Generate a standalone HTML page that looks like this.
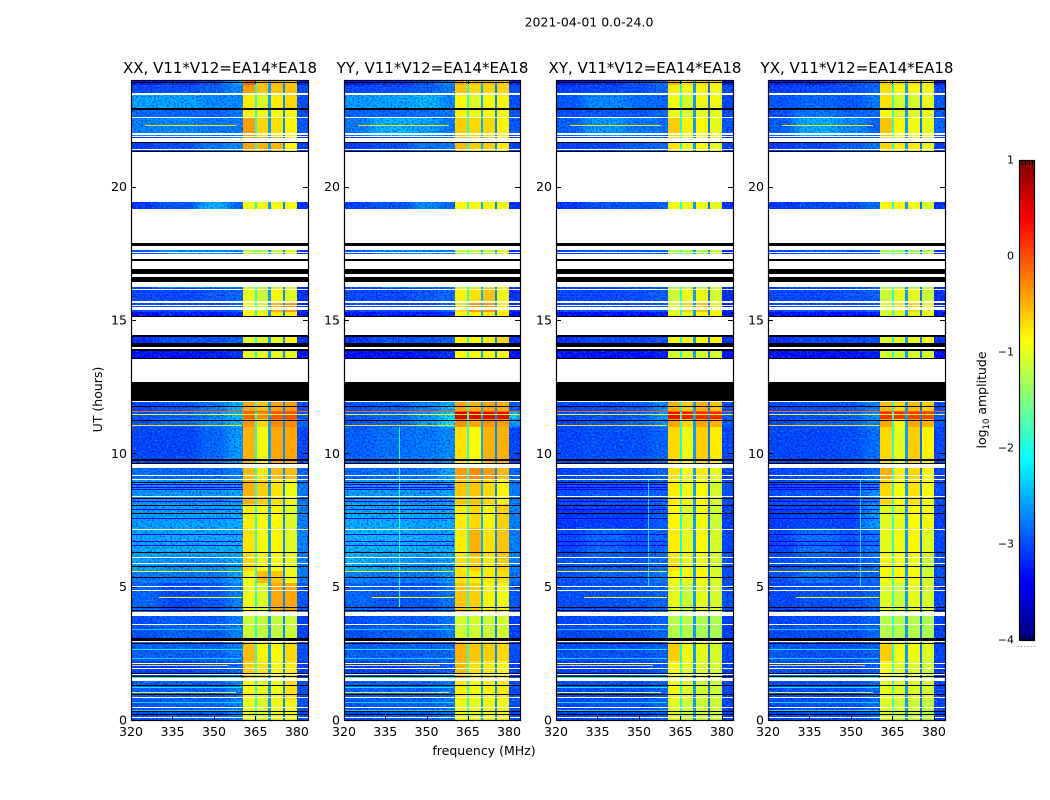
<!DOCTYPE html>
<html lang="en">
<head>
<meta charset="utf-8">
<title>2021-04-01 0.0-24.0</title>
<style>
html,body{margin:0;padding:0;background:#fff;}
svg{display:block;font-family:"DejaVu Sans","Liberation Sans",sans-serif;fill:#000;}
</style>
</head>
<body>
<svg id="figure" xmlns="http://www.w3.org/2000/svg" width="1050" height="800" viewBox="0 0 1050 800">
<defs>
<filter id="hblur" filterUnits="userSpaceOnUse" x="0" y="60" width="1050" height="680"><feGaussianBlur stdDeviation="5 0"/></filter>
<filter id="grainCool" x="0" y="0" width="100%" height="100%" color-interpolation-filters="sRGB">
<feTurbulence type="fractalNoise" baseFrequency="0.55" numOctaves="1" seed="7"/>
<feColorMatrix type="matrix" values="0 0 0 0 0  0 0 0 0 0.72  0 0 0 0 1  3.4 0 0 0 -1.55"/>
</filter>
<filter id="grainDark" x="0" y="0" width="100%" height="100%" color-interpolation-filters="sRGB">
<feTurbulence type="fractalNoise" baseFrequency="0.55" numOctaves="1" seed="23"/>
<feColorMatrix type="matrix" values="0 0 0 0 0  0 0 0 0 0.05  0 0 0 0 0.85  3.4 0 0 0 -1.55"/>
</filter>
<filter id="grainWarm" x="0" y="0" width="100%" height="100%" color-interpolation-filters="sRGB">
<feTurbulence type="fractalNoise" baseFrequency="0.5" numOctaves="1" seed="41"/>
<feColorMatrix type="matrix" values="0 0 0 0 1  0 0 0 0 0.55  0 0 0 0 0  3.2 0 0 0 -1.5"/>
</filter>
</defs>
<text x="589" y="26.5" font-size="12.5" text-anchor="middle">2021-04-01 0.0-24.0</text>
<text x="484" y="755" font-size="12.5" text-anchor="middle">frequency (MHz)</text>
<text x="0" y="0" font-size="12.5" text-anchor="middle" transform="translate(102,399.5) rotate(-90)">UT (hours)</text>
<text x="0" y="0" font-size="12.5" text-anchor="middle" transform="translate(986,400) rotate(-90)">log<tspan font-size="8.5" dy="3">10</tspan><tspan dy="-3"> amplitude</tspan></text>
<g id="panels"></g>
<g id="colorbar"></g>
</svg>
<script>
// ---- chart data ----
const panelTitles = ["XX, V11*V12=EA14*EA18", "YY, V11*V12=EA14*EA18", "XY, V11*V12=EA14*EA18", "YX, V11*V12=EA14*EA18"];
const panelNames = ["xx", "yy", "xy", "yx"];
const xTicks = [320, 335, 350, 365, 380];
const yTicks = [0, 5, 10, 15, 20];
const colorbarTicks = [1, 0, -1, -2, -3, -4];

// frequency channels of every row (MHz): edges of the 9 channel groups
const freqStart = [320, 330, 345, 355, 360.4, 365.5, 370.5, 375.5, 380];
const freqEnd   = [330, 345, 355, 360.4, 364.7, 369.7, 374.8, 380, 384];
// UT row edges (hours)
const utEdges = [0, .75, 1.5, 2.2, 3, 4.05, 5.15, 5.6, 6.2, 7.2, 8.1, 9, 9.6, 11, 11.3, 11.6, 12, 13.99, 14.5, 15.3, 15.7, 16.2, 17.85, 21.2, 21.9, 22.6, 22.95, 23.5, 23.8, 24];

// log10 amplitude: one row per UT interval, one value per channel group
const ampXX = [
[-3.0,-2.9,-2.9,-2.7,-1.0,-1.05,-.95,-.95,-3.0],
[-2.9,-2.9,-2.9,-2.7,-.9,-1.0,-.95,-.75,-3.0],
[-3.1,-3.1,-3.0,-2.85,-.65,-.75,-.9,-.8,-3.1],
[-2.9,-2.9,-2.9,-2.75,-.55,-.85,-.9,-.7,-3.0],
[-3.0,-2.9,-2.9,-2.7,-1.15,-1.2,-1.2,-1.15,-3.1],
[-2.85,-3.05,-2.95,-2.7,-.95,-1.05,-.45,-.45,-2.95],
[-2.75,-2.75,-2.75,-2.5,-.95,-.55,-.6,-.95,-2.75],
[-2.5,-2.6,-2.6,-2.45,-.7,-.9,-.9,-1.0,-2.7],
[-2.5,-2.45,-2.45,-2.45,-.75,-.9,-.85,-1.05,-2.7],
[-2.55,-2.5,-2.5,-2.45,-.8,-.9,-.85,-1.05,-2.7],
[-2.6,-2.6,-2.6,-2.5,-.5,-.65,-.75,-.95,-2.75],
[-2.8,-2.85,-2.85,-2.7,-.55,-.8,-.55,-.55,-2.85],
[-3.05,-3.05,-2.85,-2.55,-.5,-.9,-.45,-.45,-3.05],
[-2.95,-2.85,-2.65,-2.4,-.35,-.7,-.3,-.3,-2.85],
[-3.0,-2.9,-2.7,-2.35,-.1,-.3,-.05,0,-2.95],
[-3.05,-2.95,-2.75,-2.4,-.45,-.6,-.45,-.4,-3.0],
[-3.4,-3.4,-3.3,-3.2,-1.0,-1.0,-1.0,-1.0,-3.4],
[-3.2,-3.0,-3.0,-2.9,-1.05,-1.05,-1.0,-.85,-3.2],
[-3.5,-3.3,-3.3,-3.2,-.85,-.85,-.8,-.8,-3.5],
[-3.05,-3.05,-3.05,-2.85,-.9,-1.1,-.5,-.4,-3.2],
[-3.05,-3.05,-2.95,-2.85,-1.0,-1.15,-.9,-1.05,-3.2],
[-3.0,-2.65,-2.65,-2.75,-1.25,-1.25,-1.25,-1.05,-3.2],
[-3.15,-2.95,-2.45,-2.85,-.95,-.9,-.9,-.95,-3.2],
[-3.1,-3.0,-2.75,-2.65,-.45,-.5,-.5,-.85,-3.1],
[-2.7,-2.65,-2.75,-2.75,-.4,-.7,-.75,-.85,-2.95],
[-2.85,-2.85,-2.9,-2.75,-.85,-.95,-.9,-.9,-3.0],
[-2.5,-2.5,-2.65,-2.65,-.8,-1.05,-.8,-.7,-3.0],
[-3.05,-3.0,-2.9,-2.65,-.4,-.6,-.6,-.6,-3.0],
[-3.3,-3.2,-3.0,-2.55,-.1,-.55,-.55,-.6,-3.3]
];
const ampYY = [
[-3.0,-2.9,-2.9,-2.75,-.95,-1.0,-.95,-.95,-3.0],
[-2.9,-2.9,-2.9,-2.75,-.8,-.95,-.85,-.8,-3.0],
[-3.1,-3.1,-3.0,-2.9,-.55,-.75,-.8,-.85,-3.1],
[-2.9,-2.9,-2.9,-2.85,-.5,-.6,-.65,-.7,-3.0],
[-3.0,-2.9,-2.9,-2.75,-1.1,-1.1,-1.15,-1.1,-3.1],
[-2.85,-2.95,-2.95,-2.75,-.6,-.65,-.85,-.95,-2.95],
[-2.7,-2.75,-2.75,-2.55,-.75,-.8,-.8,-.75,-2.75],
[-2.4,-2.5,-2.6,-2.5,-.75,-.65,-.8,-.65,-2.7],
[-2.4,-2.4,-2.45,-2.45,-.8,-.5,-.75,-.6,-2.7],
[-2.45,-2.45,-2.5,-2.45,-.8,-.7,-.85,-.65,-2.7],
[-2.55,-2.55,-2.6,-2.5,-.6,-.6,-.7,-.85,-2.75],
[-2.85,-2.8,-2.75,-2.5,-.4,-.3,-.4,-.55,-2.85],
[-2.9,-2.8,-2.75,-2.65,-.75,-.9,-.5,-.5,-3.05],
[-2.95,-2.85,-2.55,-2.15,-.35,-.45,-.35,-.4,-2.55],
[-2.95,-2.85,-2.6,-2.2,.6,.55,.5,.45,-2.3],
[-3.0,-2.9,-2.7,-2.4,-.45,-.5,-.45,-.5,-2.9],
[-3.4,-3.4,-3.3,-3.2,-.9,-.9,-.9,-.9,-3.4],
[-3.2,-3.0,-3.0,-2.9,-.85,-.9,-.8,-.7,-3.2],
[-3.5,-3.3,-3.3,-3.2,-.85,-.85,-.8,-.8,-3.5],
[-3.05,-3.05,-3.05,-2.85,-.75,-.4,-.4,-.85,-3.2],
[-3.05,-3.05,-2.95,-2.85,-.85,-.75,-.6,-.95,-3.2],
[-3.0,-2.7,-2.7,-2.75,-1.2,-1.2,-1.2,-1.05,-3.2],
[-3.1,-2.95,-2.65,-2.85,-.9,-.9,-.85,-.95,-3.2],
[-3.1,-3.0,-2.75,-2.75,-.55,-.65,-.65,-.8,-3.1],
[-2.75,-2.4,-2.5,-2.75,-.65,-.7,-.7,-.85,-2.95],
[-2.85,-2.85,-2.8,-2.75,-.85,-.95,-.9,-.9,-3.0],
[-2.55,-2.5,-2.4,-2.65,-.9,-1.05,-.9,-.85,-3.0],
[-3.05,-3.0,-2.9,-2.75,-.6,-.7,-.7,-.7,-3.0],
[-3.3,-3.2,-3.0,-2.65,-.45,-.6,-.6,-.6,-3.3]
];
const ampXY = [
[-3.05,-3.0,-3.0,-2.85,-1.0,-1.15,-1.15,-1.15,-3.05],
[-3.0,-3.0,-3.0,-2.85,-.95,-1.05,-1.1,-1.15,-3.05],
[-3.1,-3.1,-3.05,-2.9,-.85,-1.0,-1.05,-1.1,-3.1],
[-3.0,-3.0,-3.0,-2.9,-.65,-.95,-1.0,-1.1,-3.05],
[-3.05,-3.0,-3.0,-2.85,-1.25,-1.25,-1.3,-1.3,-3.1],
[-3.0,-3.0,-2.95,-2.85,-1.0,-1.15,-1.0,-1.1,-3.0],
[-3.0,-2.9,-2.9,-2.75,-.9,-.95,-.9,-1.05,-3.0],
[-2.95,-2.9,-2.95,-2.8,-.75,-.95,-.95,-1.1,-3.0],
[-3.05,-2.85,-2.95,-2.85,-.8,-1.0,-.9,-1.1,-3.05],
[-3.15,-3.1,-3.1,-2.9,-.85,-1.05,-.95,-1.15,-3.1],
[-3.0,-2.95,-2.95,-2.85,-.8,-.95,-.9,-1.1,-3.0],
[-3.05,-3.0,-3.0,-2.85,-.75,-.9,-.8,-1.0,-3.05],
[-3.05,-3.0,-3.0,-2.85,-.7,-.95,-.65,-.8,-3.05],
[-3.05,-2.95,-2.85,-2.65,-.45,-.7,-.45,-.5,-2.95],
[-3.05,-3.0,-2.9,-2.6,.35,.3,.2,.2,-2.9],
[-3.05,-3.0,-2.9,-2.65,-.5,-.65,-.5,-.6,-3.0],
[-3.4,-3.4,-3.35,-3.3,-1.1,-1.1,-1.1,-1.1,-3.4],
[-3.2,-3.05,-3.05,-3.0,-.95,-.95,-.9,-.85,-3.2],
[-3.5,-3.35,-3.35,-3.3,-1.0,-1.0,-.9,-.9,-3.5],
[-3.05,-3.05,-3.05,-2.9,-1.05,-.7,-.6,-.95,-3.2],
[-3.05,-3.05,-3.0,-2.9,-1.15,-.95,-.95,-1.1,-3.2],
[-3.05,-2.95,-2.95,-2.9,-1.3,-1.3,-1.3,-1.15,-3.2],
[-3.15,-3.0,-2.95,-2.9,-.95,-.95,-.95,-1.0,-3.2],
[-3.1,-3.05,-2.9,-2.85,-.75,-.95,-.9,-1.0,-3.1],
[-2.9,-2.55,-2.75,-2.8,-.65,-.85,-.9,-1.0,-2.95],
[-3.0,-2.95,-2.95,-2.85,-.95,-1.05,-1.0,-1.0,-3.05],
[-2.95,-2.65,-2.8,-2.85,-.95,-1.1,-.95,-.95,-3.05],
[-3.1,-3.05,-3.0,-2.85,-.8,-.85,-.85,-.95,-3.05],
[-3.3,-3.25,-3.05,-2.8,-.5,-.7,-.7,-.8,-3.3]
];
const ampYX = [
[-3.05,-3.0,-3.0,-2.85,-1.05,-1.15,-1.15,-1.2,-3.05],
[-3.0,-3.0,-3.0,-2.85,-1.0,-1.05,-1.05,-1.1,-3.05],
[-3.0,-3.05,-3.05,-2.9,-.9,-1.05,-1.05,-1.15,-3.1],
[-2.95,-3.0,-3.0,-2.9,-.65,-.95,-.95,-1.05,-3.05],
[-3.05,-3.0,-3.0,-2.85,-1.25,-1.25,-1.25,-1.3,-3.1],
[-3.05,-3.0,-3.0,-2.85,-1.05,-1.15,-1.0,-1.1,-3.05],
[-3.0,-2.8,-2.9,-2.85,-.95,-.9,-.9,-1.1,-3.0],
[-3.0,-2.9,-2.95,-2.8,-.85,-.9,-.95,-1.15,-3.0],
[-3.05,-2.8,-2.95,-2.75,-1.0,-.95,-.85,-1.05,-3.05],
[-3.1,-3.05,-3.05,-2.55,-1.05,-1.0,-.9,-.95,-3.1],
[-3.0,-2.95,-2.95,-2.65,-.7,-.9,-.75,-.9,-3.0],
[-3.05,-3.0,-3.0,-2.8,-.5,-.8,-.7,-.9,-3.05],
[-3.05,-3.05,-3.0,-2.8,-.7,-1.0,-.65,-.85,-3.05],
[-3.05,-2.9,-2.85,-2.65,-.45,-.85,-.45,-.5,-2.95],
[-3.05,-3.0,-2.9,-2.65,.15,.15,.1,.05,-2.95],
[-3.05,-3.0,-2.95,-2.7,-.55,-.7,-.55,-.65,-3.0],
[-3.4,-3.4,-3.35,-3.3,-1.1,-1.15,-1.1,-1.1,-3.4],
[-3.2,-3.05,-3.05,-3.0,-1.05,-1.05,-1.0,-.9,-3.2],
[-3.5,-3.35,-3.35,-3.3,-1.1,-1.1,-1.0,-1.0,-3.5],
[-3.05,-3.05,-3.05,-2.9,-1.05,-.8,-.7,-.95,-3.2],
[-3.05,-3.05,-3.0,-2.9,-1.15,-1.0,-1.0,-1.15,-3.2],
[-3.05,-2.95,-2.95,-2.9,-1.35,-1.35,-1.35,-1.25,-3.2],
[-3.15,-3.05,-3.0,-2.8,-.9,-.85,-.95,-1.1,-3.2],
[-3.1,-3.05,-2.9,-2.75,-.7,-.8,-.8,-1.0,-3.1],
[-2.9,-2.45,-2.65,-2.85,-.6,-.85,-.95,-1.0,-2.85],
[-3.0,-2.75,-2.85,-2.85,-.9,-1.05,-1.05,-1.0,-2.95],
[-2.95,-2.85,-2.95,-2.75,-.75,-1.1,-1.1,-1.0,-2.95],
[-3.1,-3.05,-3.0,-2.85,-.75,-.85,-.85,-.95,-3.05],
[-3.3,-3.25,-3.05,-2.85,-.65,-.75,-.75,-.8,-3.3]
];
const panelAmps = [ampXX, ampYY, ampXY, ampYX];

// log10 amplitude of the three narrow channel gaps between the passbands
const gapFreqStart = [364.7, 369.7, 374.8];
const gapFreqEnd = [365.5, 370.5, 375.5];
const panelGaps = [[-1.9,-2.6,-2.7], [-1.9,-2.5,-2.7], [-2.0,-2.6,-2.8], [-1.9,-2.6,-2.8]];

// narrow horizontal lines: UT hour, log amplitude, start and end frequency
const lineUt = [.35,.65,1.03,1.2,1.58,1.6,2.03,2.3,2.65,3.4,4.6,5.57,6.54,6.69,6.96,7.56,7.88,8.19,8.63,8.7,8.84,11.03,11.44,11.55,22.3,23.49];
const lineAmp = [-2.3,-2.3,-.8,-2.2,-2.0,-2.0,-.7,-2.3,-2.2,-2.4,-.9,-.9,-3.4,-3.4,-3.4,-3.4,-3.4,-3.4,-3.4,-3.4,-3.4,-.7,-1.0,-.1,-.7,-.6];
const lineFreqStart = [320,320,320,320,320,320,320,320,320,320,330,320,320,320,320,320,320,320,320,320,320,320,320,320,325,345];
const lineFreqEnd = [360,360,358,360,360,360,355,360,360,360,360,360,360,360,360,360,360,360,360,360,360,360,384,384,358,359];

// narrow vertical interference lines: panel index, frequency, UT range
const spikePanel = [1, 2, 3];
const spikeFreq = [340, 353.4, 353.4];
const spikeUtStart = [4.2, 5.0, 5.0];
const spikeUtEnd = [11.0, 9.0, 9.0];
const spikeAmp = [-2.0, -2.2, -2.2];

// UT hour ranges with no data (white) and flagged rows (black)
const whiteStart = [.09,.46,.86,1.47,1.69,1.91,2.09,2.91,3.56,3.91,4.84,4.98,5.84,6.06,7.13,8.37,8.99,9.14,9.44,11.93,12.68,13.92,14.43,15.38,15.53,15.65,16.11,16.24,16.61,16.91,17.29,17.51,17.64,17.89,19.44,21.37,21.67,21.85,21.95,22.56,23.43];
const whiteEnd   = [.12,.5,.88,1.56,1.73,1.95,2.13,2.96,3.59,4.06,4.89,5.01,5.88,6.1,7.16,8.41,9.03,9.18,9.6,11.95,13.55,13.97,15.12,15.49,15.56,15.7,16.16,16.43,16.73,17.22,17.48,17.55,17.78,19.15,21.29,21.41,21.81,21.9,22,22.6,23.52];
const blackStart = [.18,.29,.96,1.28,1.63,1.75,2.89,2.96,4.09,4.23,5.33,5.74,6.27,7.73,8.03,8.29,8.89,9.6,9.72,11.22,11.73,11.95,13.55,13.84,13.97,14.36,15.12,16.43,16.73,17.22,17.78,21.29,21.64,22.89,23.89];
const blackEnd   = [.22,.32,.99,1.31,1.66,1.78,2.9,3.06,4.13,4.25,5.37,5.76,6.31,7.75,8.05,8.31,8.91,9.63,9.78,11.25,11.79,12.68,13.58,13.92,14.14,14.43,15.15,16.61,16.91,17.29,17.88,21.34,21.68,22.94,23.92];

// ---- layout and scales ----
const NS = "http://www.w3.org/2000/svg";
const panelLeft = [131, 344, 556, 768];
const panelRight = [308, 520, 733, 945];
const plotTop = 80, plotBottom = 720, cbLeft = 1019, cbRight = 1035, cbTop = 160, cbBottom = 640;
const freqMin = 320, freqMax = 384, utMax = 24, ampMin = -4, ampMax = 1;
const bandFreqStart = 360.4, bandFreqEnd = 380;

function xScale(p, f) { return panelLeft[p] + (f - freqMin) / (freqMax - freqMin) * (panelRight[p] - panelLeft[p]); }
function yScale(t) { return plotBottom - t / utMax * (plotBottom - plotTop); }
function cbScale(v) { return cbBottom - (v - ampMin) / (ampMax - ampMin) * (cbBottom - cbTop); }
function jet(v) {
  const n = Math.max(0, Math.min(1, (v - ampMin) / (ampMax - ampMin)));
  const ch = (x) => Math.round(255 * Math.max(0, Math.min(1, 1.5 - Math.abs(4 * n - x))));
  return "rgb(" + ch(3) + "," + ch(2) + "," + ch(1) + ")";
}
function svgEl(tag, parent, attrs, text) {
  const el = document.createElementNS(NS, tag);
  for (const k in attrs) el.setAttribute(k, attrs[k]);
  if (text !== undefined) el.textContent = text;
  parent.appendChild(el);
  return el;
}
function band(parent, x0, x1, t0, t1, fill) {
  const yTop = Math.round(yScale(t1));
  const yBot = Math.max(yTop + 1, Math.round(yScale(t0)));
  return svgEl("rect", parent, { x: x0, y: yTop, width: x1 - x0, height: yBot - yTop, fill: fill, "shape-rendering": "crispEdges" });
}

const figureDefs = document.querySelector("#figure defs");
const panelsRoot = document.getElementById("panels");
panelAmps.forEach(function (amps, p) {
  const g = svgEl("g", panelsRoot, {});
  
  

  const clip = svgEl("clipPath", figureDefs, { id: "clip-" + p });
  svgEl("rect", clip, { x: panelLeft[p], y: plotTop, width: panelRight[p] - panelLeft[p], height: plotBottom - plotTop });

  const title = svgEl("text", g, { x: (panelLeft[p] + panelRight[p]) / 2 + .5, y: 73, "font-size": "15", "text-anchor": "middle" }, panelTitles[p]);
  
  

  const heat = svgEl("g", g, { "clip-path": "url(#clip-" + p + ")" });
  
  
  const background = svgEl("g", heat, { filter: "url(#hblur)" });
  
  

  amps.forEach(function (row, r) {
    row.forEach(function (val, c) {
      const blurred = c < 4;
      const x0 = Math.round(xScale(p, freqStart[c])) - (c === 0 ? 16 : 0);
      const x1 = Math.round(xScale(p, freqEnd[c])) + (c === 3 ? 16 : 0);
      const cell = band(blurred ? background : heat, x0, x1, utEdges[r], utEdges[r + 1], jet(val));
      
      
    });
    panelGaps[p].forEach(function (val, c) {
      const x0 = Math.round(xScale(p, gapFreqStart[c]));
      const x1 = Math.round(xScale(p, gapFreqEnd[c]));
      const gap = band(heat, x0, Math.max(x0 + 2, x1), utEdges[r], utEdges[r + 1], jet(val));
      
      
    });
  });

  const bandX0 = Math.round(xScale(p, bandFreqStart));
  const bandX1 = Math.round(xScale(p, bandFreqEnd));
  [[panelLeft[p], bandX0], [bandX1, panelRight[p]]].forEach(function (span) {
    const cool = svgEl("rect", heat, { x: span[0], y: plotTop, width: span[1] - span[0], height: plotBottom - plotTop, filter: "url(#grainCool)", opacity: "0.55" });
    
    
    const dark = svgEl("rect", heat, { x: span[0], y: plotTop, width: span[1] - span[0], height: plotBottom - plotTop, filter: "url(#grainDark)", opacity: "0.6" });
    
    
  });
  const warm = svgEl("rect", heat, { x: bandX0, y: plotTop, width: bandX1 - bandX0, height: plotBottom - plotTop, filter: "url(#grainWarm)", opacity: "0.18" });
  
  

  lineUt.forEach(function (t, i) {
    const line = band(heat, Math.round(xScale(p, lineFreqStart[i])), Math.round(xScale(p, lineFreqEnd[i])), t, t + .02, jet(lineAmp[i]));
    
    
  });
  spikePanel.forEach(function (sp, i) {
    if (sp !== p) return;
    const x = Math.round(xScale(p, spikeFreq[i]));
    const spike = band(heat, x, x + 1, spikeUtStart[i], spikeUtEnd[i], jet(spikeAmp[i]));
    
    
  });

  whiteStart.forEach(function (t, i) {
    const m = band(g, panelLeft[p], panelRight[p], t, whiteEnd[i], "#fff");
    
    
  });
  blackStart.forEach(function (t, i) {
    const m = band(g, panelLeft[p], panelRight[p], t, blackEnd[i], "#000");
    
    
  });

  const frame = svgEl("rect", g, {
    x: panelLeft[p] + .5, y: plotTop + .5, width: panelRight[p] - panelLeft[p], height: plotBottom - plotTop,
    fill: "none", stroke: "#000", "stroke-width": "1.2"
  });
  
  

  xTicks.forEach(function (f) {
    const x = Math.round(xScale(p, f)) + .5;
    const t1 = svgEl("line", g, { x1: x, x2: x, y1: plotBottom, y2: plotBottom - 4, stroke: "#000" });
    
    
    const t2 = svgEl("line", g, { x1: x, x2: x, y1: plotTop, y2: plotTop + 4, stroke: "#000" });
    
    
    const label = svgEl("text", g, { x: xScale(p, f), y: 736, "font-size": "12.6", "text-anchor": "middle" }, String(f));
    
    
  });
  yTicks.forEach(function (t) {
    const y = Math.round(yScale(t)) + .5;
    const t1 = svgEl("line", g, { x1: panelLeft[p], x2: panelLeft[p] + 5, y1: y, y2: y, stroke: "#000" });
    
    
    const t2 = svgEl("line", g, { x1: panelRight[p], x2: panelRight[p] - 5, y1: y, y2: y, stroke: "#000" });
    
    
    const label = svgEl("text", g, { x: panelLeft[p] - 4, y: yScale(t) + 4.5, "font-size": "12.6", "text-anchor": "end" }, String(t));
    
    
  });
});

// ---- colorbar ----
const cb = document.getElementById("colorbar");
for (let y = cbTop; y < cbBottom; y++) {
  const v = ampMax - (y + .5 - cbTop) / (cbBottom - cbTop) * (ampMax - ampMin);
  const s = svgEl("rect", cb, { x: cbLeft, y: y, width: cbRight - cbLeft, height: 1, fill: jet(v), "shape-rendering": "crispEdges" });
  
  
}
const cbFrame = svgEl("rect", cb, { x: cbLeft + .5, y: cbTop + .5, width: cbRight - cbLeft - 1, height: cbBottom - cbTop, fill: "none", stroke: "#000", "stroke-width": "1.2" });


colorbarTicks.forEach(function (v) {
  const y = cbScale(v);
  const label = svgEl("text", cb, { x: cbLeft - 5, y: y + 3.5, "font-size": "11", "text-anchor": "end" }, String(v).replace("-", "\u2212"));
  
  
});
for (let i = 1; i < 5; i++) {
  const xt = Math.round(cbLeft + i * (cbRight - cbLeft) / 5) + .5;
  const topTick = svgEl("line", cb, { x1: xt, x2: xt, y1: cbTop, y2: cbTop + 5, stroke: "#000" });
  
  
  const bottomTick = svgEl("line", cb, { x1: xt, x2: xt, y1: cbBottom - 5, y2: cbBottom, stroke: "#000" });
  
  
}
for (let i = 0; i < 6; i++) {
  const dot = svgEl("rect", cb, { x: 1017.5 + i * 3.4, y: 646, width: 1, height: 1, fill: "#888" });
  
  
}
</script>
</body>
</html>
